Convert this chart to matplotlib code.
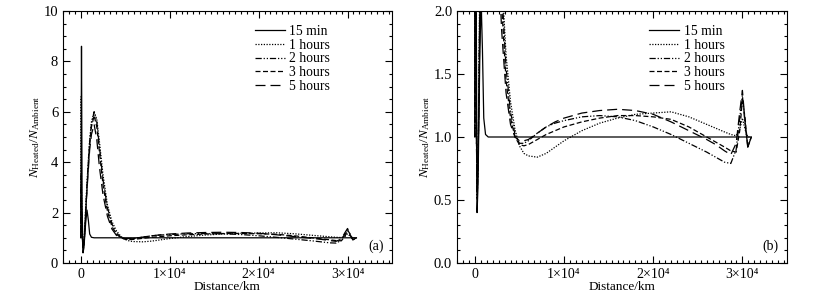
import matplotlib
matplotlib.use("Agg")
import matplotlib.pyplot as plt
from matplotlib.ticker import MultipleLocator, FixedLocator, FixedFormatter

plt.rcParams['font.family'] = ['Liberation Serif', 'DejaVu Serif']
plt.rcParams['mathtext.fontset'] = 'custom'
plt.rcParams['mathtext.rm'] = 'Liberation Serif'
plt.rcParams['mathtext.it'] = 'Liberation Serif:italic'
plt.rcParams['mathtext.bf'] = 'Liberation Serif:bold'

# Distance grid (km)
distance_km = [0, 40, 80, 150, 250, 350, 450, 550, 700, 850,
               1000, 1200, 1500, 1800, 2100, 2500, 3000, 3500, 4000, 4500,
               5000, 5500, 6000, 7000, 8000, 9000, 10000, 12000, 14000, 16000,
               18000, 20000, 22000, 24000, 26000, 27000, 28000, 28700, 29300, 29700,
               30000, 30300, 30600, 31000]

ratio_15min = [1.0, 4.5, 8.6, 2.2, 0.4, 0.6, 1.1, 1.6, 2.1, 1.7,
               1.15, 1.02, 1.0, 1.0, 1.0, 1.0, 1.0, 1.0, 1.0, 1.0,
               1.0, 1.0, 1.0, 1.0, 1.0, 1.0, 1.0, 1.0, 1.0, 1.0,
               1.0, 1.0, 1.0, 1.0, 1.0, 1.0, 1.0, 1.0, 1.0, 1.0,
               1.0, 1.0, 1.0, 1.0]

ratio_1h = [1.0, 6.6, 3.0, 1.5, 0.6, 0.8, 1.4, 2.2, 3.2, 4.1,
            4.9, 5.6, 6.0, 5.7, 4.8, 3.5, 2.3, 1.65, 1.28, 1.06,
            0.93, 0.87, 0.85, 0.84, 0.87, 0.92, 0.97, 1.05, 1.11, 1.15,
            1.18, 1.19, 1.2, 1.16, 1.1, 1.07, 1.04, 1.02, 1.01, 1.06,
            1.15, 1.06, 1.0, 1.0]

ratio_2h = [1.0, 3.5, 2.5, 1.3, 0.5, 0.7, 1.3, 2.1, 3.1, 4.0,
            4.8, 5.5, 6.0, 5.6, 4.6, 3.3, 2.2, 1.55, 1.2, 1.02,
            0.95, 0.95, 0.97, 1.03, 1.08, 1.11, 1.13, 1.16, 1.17, 1.16,
            1.13, 1.08, 1.02, 0.95, 0.88, 0.84, 0.80, 0.79, 0.9, 1.15,
            1.33, 1.1, 0.92, 1.0]

ratio_3h = [1.0, 3.0, 2.2, 1.2, 0.55, 0.75, 1.25, 2.0, 3.0, 3.9,
            4.7, 5.4, 5.85, 5.4, 4.4, 3.1, 2.05, 1.45, 1.15, 1.0,
            0.94, 0.93, 0.94, 0.98, 1.02, 1.05, 1.08, 1.12, 1.15, 1.17,
            1.17, 1.16, 1.14, 1.08, 1.0, 0.96, 0.92, 0.89, 0.88, 1.05,
            1.3, 1.15, 0.92, 1.0]

ratio_5h = [1.0, 2.5, 2.0, 1.1, 0.6, 0.8, 1.2, 1.9, 2.9, 3.7,
            4.5, 5.1, 5.5, 4.9, 3.8, 2.7, 1.85, 1.35, 1.1, 1.0,
            0.97, 0.97, 0.98, 1.03, 1.08, 1.12, 1.15, 1.19, 1.21, 1.22,
            1.21, 1.18, 1.12, 1.05, 0.98, 0.94, 0.89, 0.86, 0.95, 1.2,
            1.37, 1.12, 0.92, 1.0]

series_labels = ['15 min', '1 hours', '2 hours', '3 hours', '5 hours']
series_values = [ratio_15min, ratio_1h, ratio_2h, ratio_3h, ratio_5h]
line_styles = ['-', (0, (1, 1.2)), (0, (5, 1.5, 1, 1.5, 1, 1.5)), (0, (4, 2)), (0, (8, 4))]

x_tick_values = [0, 10000, 20000, 30000]
x_tick_labels = ['0', '1\u00d710\u2074', '2\u00d710\u2074', '3\u00d710\u2074']

W, H = 815, 300
fig = plt.figure(figsize=(W / 100, H / 100), dpi=100)

panels = [
    dict(rect=[63 / W, 1 - 263 / H, 329 / W, 252 / H], ylim=(0, 10), major=2, minor=0.5,
         fmt='{:.0f}', tag='(a)'),
    dict(rect=[457 / W, 1 - 263 / H, 330 / W, 252 / H], ylim=(0, 2), major=0.5, minor=0.1,
         fmt='{:.1f}', tag='(b)'),
]

for p in panels:
    ax = fig.add_axes(p['rect'])
    for vals, lab, ls in zip(series_values, series_labels, line_styles):
        ax.plot(distance_km, vals, color='black', lw=0.9, linestyle=ls, label=lab)
    ax.set_xlim(-2000, 35000)
    ax.set_ylim(*p['ylim'])
    ax.xaxis.set_major_locator(FixedLocator(x_tick_values))
    ax.xaxis.set_major_formatter(FixedFormatter(x_tick_labels))
    ax.xaxis.set_minor_locator(MultipleLocator(10000 / 15))
    ax.yaxis.set_major_locator(MultipleLocator(p['major']))
    ax.yaxis.set_minor_locator(MultipleLocator(p['minor']))
    fmt = p['fmt']
    ax.yaxis.set_major_formatter(plt.FuncFormatter(lambda v, pos, f=fmt: f.format(v)))
    ax.tick_params(which='both', direction='in', top=True, right=True, width=0.8)
    ax.tick_params(axis='y', labelsize=10.5)
    ax.tick_params(axis='x', labelsize=10)
    ax.tick_params(which='major', length=5)
    ax.tick_params(which='minor', length=2.5)
    for s in ax.spines.values():
        s.set_linewidth(0.8)
    ax.set_xlabel('Distance/km', fontsize=9.5, labelpad=0)
    ax.set_ylabel(r'$N_{\rm Heated}/N_{\rm Ambient}$', fontsize=9.5, labelpad=1)
    ax.text(0.975, 0.04, p['tag'], transform=ax.transAxes, ha='right', va='bottom', fontsize=10)
    ax.legend(loc='upper left', bbox_to_anchor=(0.575, 0.955), frameon=False, fontsize=9.8,
              handlelength=2.2, handletextpad=0.3, labelspacing=0.05, borderaxespad=0,
              borderpad=0.2)

fig.savefig('out.png', dpi=100)
